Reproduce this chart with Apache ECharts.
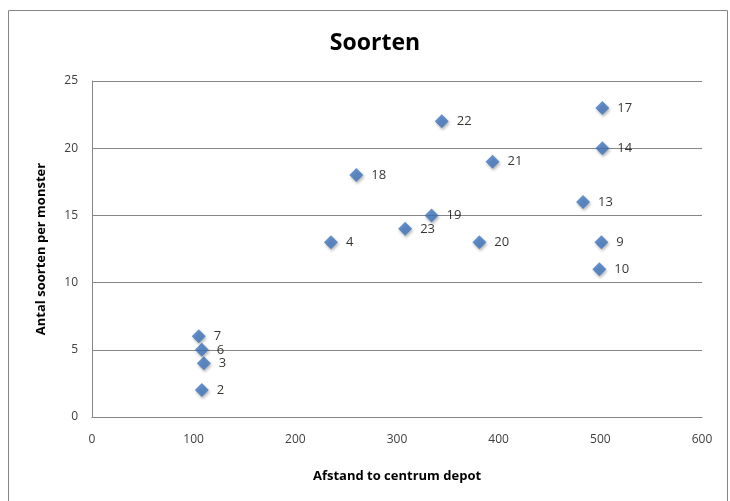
<!DOCTYPE html>
<html>
<head>
<meta charset="utf-8">
<script src="https://cdn.jsdelivr.net/npm/echarts@6/dist/echarts.min.js"></script>
<style>html,body{margin:0;padding:0;background:#fff}#c{width:730px;height:501px}</style>
</head>
<body>
<div id="c"></div>
<script>
const pointIds = ['2','3','6','7','4','18','23','19','22','20','21','13','17','14','9','10'];
const distance = [108, 110, 108, 105, 235, 260, 308, 334, 344, 381, 394, 483, 502, 502, 501, 499];
const species  = [2, 4, 5, 6, 13, 18, 14, 15, 22, 13, 19, 16, 23, 20, 13, 11];
const xTicks = [0, 100, 200, 300, 400, 500, 600];
const yTicks = [0, 5, 10, 15, 20, 25];

const font = 'Open Sans';
const chart = echarts.init(document.getElementById('c'));
chart.setOption({
  animation: false,
  title: {
    text: 'Soorten', left: 370, top: 27, textAlign: 'center',
    textStyle: { fontFamily: font, fontSize: 23, fontWeight: 'bold', color: '#000' }
  },
  graphic: [{
    type: 'rect', shape: { x: 8.5, y: 10.5, width: 719, height: 500 },
    style: { fill: 'none', stroke: '#868686', lineWidth: 1 }, silent: true
  }],
  grid: { left: 92, right: 28, top: 81, bottom: 84 },
  xAxis: {
    type: 'value', min: xTicks[0], max: xTicks[xTicks.length - 1], interval: 100,
    name: 'Afstand to centrum depot', nameLocation: 'middle', nameGap: 53,
    nameTextStyle: { fontFamily: font, fontSize: 13, fontWeight: 'bold', color: '#000' },
    axisLine: { show: true, lineStyle: { color: '#868686' } },
    axisTick: { show: false },
    splitLine: { show: false },
    axisLabel: { fontFamily: font, fontSize: 12, color: '#404040', margin: 17 }
  },
  yAxis: {
    type: 'value', min: yTicks[0], max: yTicks[yTicks.length - 1], interval: 5,
    name: 'Antal soorten per monster', nameLocation: 'middle', nameGap: 44,
    nameTextStyle: { fontFamily: font, fontSize: 13, fontWeight: 'bold', color: '#000' },
    axisLine: { show: true, lineStyle: { color: '#868686' } },
    axisTick: { show: false },
    splitLine: { show: true, lineStyle: { color: '#868686', width: 1 } },
    axisLabel: { fontFamily: font, fontSize: 12, color: '#404040', margin: 14 }
  },
  series: [{
    type: 'scatter',
    symbol: 'diamond',
    symbolSize: 14,
    data: distance.map((d, i) => ({ value: [d, species[i]], name: pointIds[i] })),
    itemStyle: { color: '#3f74bc', shadowColor: 'rgba(0,0,0,0.35)', shadowBlur: 3, shadowOffsetX: 1, shadowOffsetY: 2 },
    label: {
      show: true, position: 'right', distance: 8,
      formatter: p => p.name,
      fontFamily: font, fontSize: 13, color: '#000'
    }
  }]
});
</script>
</body>
</html>
